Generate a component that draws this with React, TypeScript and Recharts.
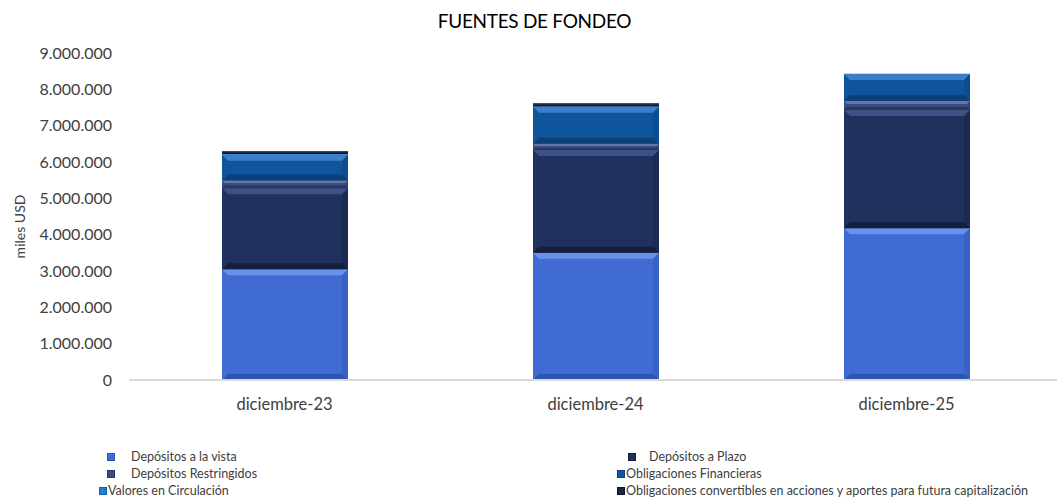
import { BarChart, Bar, XAxis, YAxis, Legend, Label } from 'recharts'

const periods = ['diciembre-23', 'diciembre-24', 'diciembre-25']
const depositosVista = [3050000, 3500000, 4180000]
const depositosPlazo = [2230000, 2830000, 3250000]
const depositosRestringidos = [210000, 170000, 250000]
const obligacionesFinancieras = [710000, 1020000, 740000]
const valoresCirculacion = [20000, 15000, 10000]
const obligacionesConvertibles = [80000, 80000, 0]
const yTicks = [0, 1000000, 2000000, 3000000, 4000000, 5000000, 6000000, 7000000, 8000000, 9000000]

const series = [
  { key: 'vista', name: 'Depósitos a la vista', values: depositosVista, color: '#3f6bd2', light: '#6a92ea', dark: '#2d54ae' },
  { key: 'plazo', name: 'Depósitos a Plazo', values: depositosPlazo, color: '#1f315c', light: '#3c5186', dark: '#141f3d' },
  { key: 'restringidos', name: 'Depósitos Restringidos', values: depositosRestringidos, color: '#3a4b7e', light: '#6677aa', dark: '#283761' },
  { key: 'financieras', name: 'Obligaciones Financieras', values: obligacionesFinancieras, color: '#0f559c', light: '#3b7fca', dark: '#0b4079' },
  { key: 'valores', name: 'Valores en Circulación', values: valoresCirculacion, color: '#1e7fd6', light: '#5aa8ee', dark: '#1560a8' },
  { key: 'convertibles', name: 'Obligaciones convertibles en acciones y aportes para futura capitalización', values: obligacionesConvertibles, color: '#1c2644', light: '#3a4670', dark: '#10172c' },
]

const data = periods.map((p, i) => {
  const row: Record<string, string | number> = { period: p }
  series.forEach((s) => {
    row[s.key] = s.values[i]
  })
  return row
})

const fmt = (v: number) => v.toLocaleString('de-DE')

function bevelShape(color: string, light: string, dark: string) {
  return (props: any) => {
    const { x, y, width, height } = props
    if (!height || height <= 0) return <g />
    const b = Math.min(6, height / 3)
    return (
      <g>
        <rect x={x} y={y} width={width} height={height} fill={color} />
        <polygon
          points={`${x},${y} ${x + width},${y} ${x + width - b},${y + b} ${x + b},${y + b}`}
          fill={light}
        />
        <polygon
          points={`${x},${y + height} ${x + width},${y + height} ${x + width - b},${y + height - b} ${x + b},${y + height - b}`}
          fill={dark}
        />
        <polygon
          points={`${x + width},${y} ${x + width},${y + height} ${x + width - b},${y + height - b} ${x + width - b},${y + b}`}
          fill={dark}
          opacity={0.35}
        />
      </g>
    )
  }
}

function LegendBox() {
  const items = [
    { s: series[0], col: 0, pad: true },
    { s: series[1], col: 1, pad: true },
    { s: series[2], col: 0, pad: true },
    { s: series[3], col: 1, pad: false },
    { s: series[4], col: 0, pad: false },
    { s: series[5], col: 1, pad: false },
  ]
  return (
    <div style={{ position: 'relative', height: 55, fontFamily: 'Lato, sans-serif', fontSize: 12.5, color: '#404040' }}>
      {items.map((it, i) => {
        const row = Math.floor(i / 2)
        const left = it.col === 0 ? 99 : 617
        return (
          <div
            key={it.s.key}
            style={{ position: 'absolute', left, top: 6 + row * 17, height: 17, display: 'flex', alignItems: 'center', whiteSpace: 'nowrap' }}
          >
            <span
              style={{
                display: 'inline-block',
                width: 6,
                height: 6,
                marginLeft: it.pad ? (it.col === 0 ? 8 : 11) : 0,
                marginRight: it.pad ? (it.col === 0 ? 16 : 13) : 1,
                background: it.s.color,
                border: `1px solid ${it.s.dark}`,
              }}
            />
            {it.s.name}
          </div>
        )
      })}
    </div>
  )
}

export default function App() {
  return (
    <div style={{ position: 'absolute', left: 0, top: 0, width: 1057, height: 497, background: '#fff' }}>
      <div
        style={{
          position: 'absolute',
          top: 9,
          width: 1057,
          paddingLeft: 12,
          boxSizing: 'border-box',
          textAlign: 'center',
          fontFamily: 'Lato, sans-serif',
          fontSize: 19,
          color: '#000',
          letterSpacing: -0.3,
        }}
      >
        FUENTES DE FONDEO
      </div>
      <BarChart width={1057} height={497} data={data} margin={{ top: 53, right: -5, left: 0, bottom: 0 }} barCategoryGap="30%">
        <XAxis
          dataKey="period"
          height={62}
          tickLine={false}
          tickSize={0}
          tickMargin={18}
          stroke="#d9d9d9"
          strokeWidth={2}
          tick={{ fill: '#404040', fontSize: 16.5, fontFamily: 'Lato, sans-serif' }}
        />
        <YAxis
          width={129}
          domain={[0, 9000000]}
          ticks={yTicks}
          tickFormatter={fmt}
          axisLine={false}
          tickLine={false}
          tickSize={0}
          tickMargin={17}
          tick={{ fill: '#404040', fontSize: 16, fontFamily: 'Lato, sans-serif' }}
        >
          <Label
            content={(p: any) => {
              const vb = p.viewBox
              const cy = vb.y + vb.height / 2 + 10
              return (
                <text
                  x={19}
                  y={cy}
                  transform={`rotate(-90, 19, ${cy})`}
                  textAnchor="middle"
                  dominantBaseline="central"
                  fill="#404040"
                  fontSize={14}
                  fontFamily="Lato, sans-serif"
                >
                  miles USD
                </text>
              )
            }}
          />
        </YAxis>
        <Legend verticalAlign="bottom" content={() => <LegendBox />} />
        {series.map((s) => (
          <Bar
            key={s.key}
            dataKey={s.key}
            name={s.name}
            stackId="a"
            fill={s.color}
            barSize={126}
            isAnimationActive={false}
            shape={bevelShape(s.color, s.light, s.dark)}
          />
        ))}
      </BarChart>
    </div>
  )
}
